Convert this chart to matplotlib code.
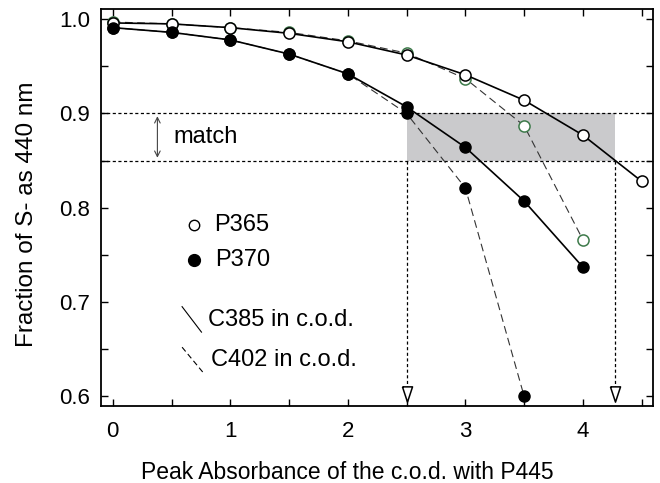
import matplotlib.pyplot as plt
import numpy as np

plt.rcParams['font.family'] = ['Liberation Sans', 'DejaVu Sans']

absorb = [0, 0.5, 1, 1.5, 2, 2.5, 3, 3.5, 4, 4.5]

# P365 with C385 (solid) and C402 (dashed)
p365_c385 = [0.996, 0.995, 0.991, 0.985, 0.976, 0.962, 0.941, 0.914, 0.877, 0.828]
p365_c402 = [0.997, 0.995, 0.991, 0.986, 0.977, 0.964, 0.937, 0.887, 0.766]

# P370 with C385 (solid) and C402 (dashed)
p370_c385 = [0.991, 0.986, 0.978, 0.963, 0.942, 0.907, 0.864, 0.807, 0.737]
p370_c402 = [0.991, 0.986, 0.978, 0.963, 0.942, 0.900, 0.821, 0.600]

match_lo, match_hi = 0.85, 0.90
match_x = [2.5, 4.27]

# tall, narrow downward triangle
tri = [(-0.33, 0.5), (0.33, 0.5), (0, -0.5), (-0.33, 0.5)]

fig, ax = plt.subplots(figsize=(6.6, 4.83), dpi=100)
fig.subplots_adjust(left=0.153, right=0.99, top=0.981, bottom=0.159)

# shaded "match" band and guide lines
ax.fill_between(match_x, match_lo, match_hi, color='#cacacc', lw=0, zorder=0)
ax.axhline(match_hi, color='k', ls=(0, (2.5, 2)), lw=0.9, zorder=1)
ax.axhline(match_lo, color='k', ls=(0, (2.5, 2)), lw=0.9, zorder=1)
for xv in match_x:
    ax.plot([xv, xv], [match_lo, 0.609], color='k', ls=(0, (2.5, 2)), lw=0.9, zorder=1)
    ax.plot(xv, 0.602, marker=tri, ms=11, mfc='white', mec='k', mew=1.1, zorder=3)

ax.annotate('', xy=(0.38, match_hi), xytext=(0.38, match_lo),
            arrowprops=dict(arrowstyle='<->', color='#444444', lw=0.8))
ax.text(0.52, 0.875, 'match', fontsize=17, va='center')

n = len(p365_c402)
ax.plot(absorb[:n], p365_c402, color='#333333', ls=(0, (7, 4)), lw=0.8,
        marker='o', ms=8, mfc='white', mec='#3d7a4a', mew=1.1, zorder=2)
ax.plot(absorb, p365_c385, color='k', lw=1.2,
        marker='o', ms=8, mfc='white', mec='k', mew=1.1, zorder=4)

n = len(p370_c402)
ax.plot(absorb[:n], p370_c402, color='#333333', ls=(0, (7, 4)), lw=0.8,
        marker='o', ms=8, mfc='k', mec='k', zorder=2)
n = len(p370_c385)
ax.plot(absorb[:n], p370_c385, color='k', lw=1.2,
        marker='o', ms=8, mfc='k', mec='k', zorder=4)

# hand-drawn style legend
ax.plot(0.69, 0.782, marker='o', ms=7.5, mfc='white', mec='k', mew=1.0)
ax.text(0.86, 0.782, 'P365', fontsize=17, va='center')
ax.plot(0.69, 0.745, marker='o', ms=8.5, mfc='k', mec='k')
ax.text(0.87, 0.745, 'P370', fontsize=17, va='center')
ax.plot([0.59, 0.755], [0.695, 0.668], color='k', lw=0.8)
ax.text(0.81, 0.681, 'C385 in c.o.d.', fontsize=17, va='center')
ax.plot([0.59, 0.77], [0.652, 0.625], color='k', lw=0.8, ls=(0, (5, 3)))
ax.text(0.84, 0.638, 'C402 in c.o.d.', fontsize=17, va='center')

ax.set_xlim(-0.1, 4.6)
ax.set_ylim(0.5894, 1.0106)
ax.set_xticks(np.arange(0, 5, 1))
ax.set_xticks(np.arange(0, 4.6, 0.5), minor=True)
ax.set_yticks([0.6, 0.7, 0.8, 0.9, 1.0])
ax.set_yticks(np.arange(0.6, 1.01, 0.05), minor=True)
ax.set_yticklabels(['0.6', '0.7', '0.8', '0.9', '1.0'])
ax.tick_params(which='both', direction='in', top=True, right=True,
               length=5, width=1, labelsize=16)
ax.tick_params(axis='x', pad=10.5)
ax.tick_params(axis='y', pad=8)
for s in ax.spines.values():
    s.set_linewidth(1.3)

ax.set_xlabel('Peak Absorbance of the c.o.d. with P445', fontsize=16.5)
ax.set_ylabel('Fraction of S- as 440 nm', fontsize=17.5)
ax.xaxis.set_label_coords(0.446, -0.138)
ax.yaxis.set_label_coords(-0.114, 0.484)

plt.savefig('out.png')
